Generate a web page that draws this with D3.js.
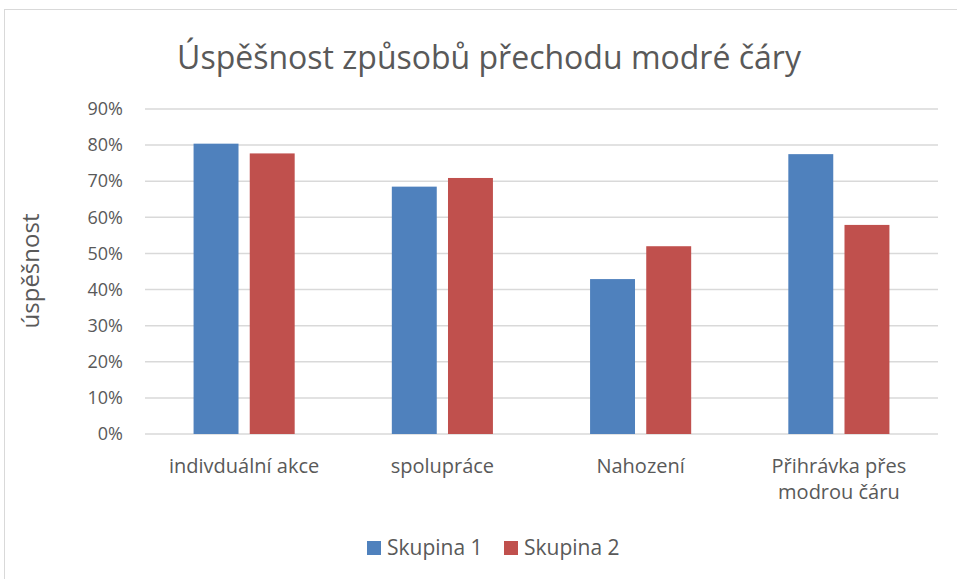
<!DOCTYPE html>
<html>
<head>
  <meta charset="utf-8">
  <script src="https://cdnjs.cloudflare.com/ajax/libs/d3/7.8.5/d3.min.js"></script>
  <style>
    body { margin: 0; background: #fff; }
    svg { display: block; font-family: "Open Sans", "Noto Sans", sans-serif; }
    .tick text { fill: #595959; font-size: 18px; font-family: "Open Sans", "Noto Sans", sans-serif; }
    .grid line { stroke: #d9d9d9; stroke-width: 1.5px; }
  </style>
</head>
<body>
<script>
  var categories = ['indivduální akce', 'spolupráce', 'Nahození', 'Přihrávka přes modrou čáru'];
  var series = ['Skupina 1', 'Skupina 2'];
  var skupina1 = [0.804, 0.685, 0.429, 0.775];
  var skupina2 = [0.777, 0.709, 0.520, 0.579];
  var yTicks = [0, 0.1, 0.2, 0.3, 0.4, 0.5, 0.6, 0.7, 0.8, 0.9];
  var colors = ['#4f81bd', '#c0504d'];

  var W = 957, H = 579;
  var m = { left: 145, right: 19, top: 109, bottom: 145 };

  var svg = d3.select('body').append('svg').attr('width', W).attr('height', H);

  // rámeček grafu
  svg.append('rect').attr('x', 4.5).attr('y', 9.5).attr('width', W).attr('height', H)
    .attr('fill', '#fff').attr('stroke', '#d9d9d9');

  var x0 = d3.scaleBand().domain(categories).range([m.left, W - m.right]).paddingInner(0.49).paddingOuter(0.245);
  var x1 = d3.scaleBand().domain(series).range([0, x0.bandwidth()]).paddingInner(0.2);
  var y = d3.scaleLinear().domain([0, 0.9]).range([H - m.bottom, m.top]);

  // mřížka
  svg.append('g').attr('class', 'grid')
    .selectAll('line').data(yTicks).join('line')
    .attr('x1', m.left).attr('x2', W - m.right)
    .attr('y1', d => y(d)).attr('y2', d => y(d));

  var yAxis = svg.append('g').attr('transform', 'translate(' + (m.left - 4) + ',0)')
    .call(d3.axisLeft(y).tickValues(yTicks).tickFormat(d3.format('.0%')).tickSize(0).tickPadding(18));
  yAxis.select('.domain').remove();

  var data = categories.map((c, i) => ({ cat: c, vals: [skupina1[i], skupina2[i]] }));

  svg.append('g').selectAll('g').data(data).join('g')
    .attr('transform', d => 'translate(' + x0(d.cat) + ',0)')
    .selectAll('rect').data(d => d.vals.map((v, j) => ({ s: series[j], v: v, j: j }))).join('rect')
    .attr('x', d => x1(d.s)).attr('width', x1.bandwidth())
    .attr('y', d => y(d.v)).attr('height', d => y(0) - y(d.v))
    .attr('fill', d => colors[d.j]);

  // popisky kategorií
  var xl = svg.append('g').selectAll('text').data(categories).join('text')
    .attr('x', d => x0(d) + x0.bandwidth() / 2).attr('y', 473)
    .attr('text-anchor', 'middle').attr('fill', '#595959').attr('font-size', 20);
  xl.each(function (d) {
    var lines = d === 'Přihrávka přes modrou čáru' ? ['Přihrávka přes', 'modrou čáru'] : [d];
    d3.select(this).selectAll('tspan').data(lines).join('tspan')
      .attr('x', x0(d) + x0.bandwidth() / 2).attr('dy', (l, i) => i ? 26 : 0).text(l => l);
  });

  svg.append('text').attr('x', 489).attr('y', 69).attr('text-anchor', 'middle')
    .attr('fill', '#595959').attr('font-size', 32).text('Úspěšnost způsobů přechodu modré čáry');

  svg.append('text').attr('transform', 'translate(39,271) rotate(-90)').attr('text-anchor', 'middle')
    .attr('fill', '#595959').attr('font-size', 24).text('úspěšnost');

  // legenda
  var lg = svg.append('g').selectAll('g').data(series).join('g')
    .attr('transform', (d, i) => 'translate(' + (367 + i * 137) + ',541)');
  lg.append('rect').attr('width', 14).attr('height', 14).attr('fill', (d, i) => colors[i]);
  lg.append('text').attr('x', 20).attr('y', 14).attr('fill', '#595959').attr('font-size', 21).text(d => d);
</script>
</body>
</html>
